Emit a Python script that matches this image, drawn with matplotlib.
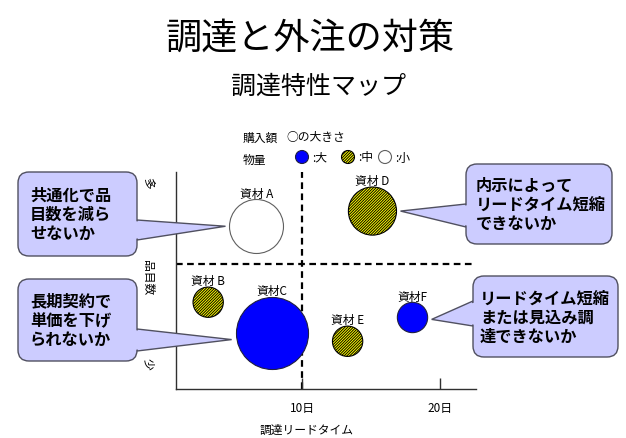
import numpy as np
import matplotlib
matplotlib.use("Agg")
import matplotlib.pyplot as plt
from matplotlib.patches import FancyBboxPatch, Polygon, Circle

plt.rcParams["font.family"] = ["Noto Sans CJK JP", "DejaVu Sans"]
plt.rcParams["hatch.linewidth"] = 0.7
plt.rcParams["hatch.color"] = "black"

# data
materials = ["資材 A", "資材 B", "資材C", "資材 D", "資材 E", "資材F"]
lead_time = [6.7, 3.2, 7.8, 15.1, 13.3, 18.0]      # 調達リードタイム (日)
item_count = [7.5, 4.0, 2.6, 8.2, 2.2, 3.3]        # 品目数 (少→多)
purchase = [7.3, 2.3, 13.0, 5.8, 2.3, 2.3]         # 購入額 (bubble area)
volume = ["小", "中", "大", "中", "中", "大"]        # 物量

x_ticks = [10, 20]
x_tick_labels = ["10日", "20日"]
x_split = 10
y_split = 5.76

styles = {
    "大": dict(facecolor="#0000FF", edgecolor="#202040", hatch=None),
    "中": dict(facecolor="#FFFF00", edgecolor="black", hatch="////////////"),
    "小": dict(facecolor="white", edgecolor="#606060", hatch=None),
}

W, H = 626, 439
fig = plt.figure(figsize=(W / 100, H / 100), dpi=100)
fig.patch.set_facecolor("white")

ax = fig.add_axes([176 / W, 1 - 390 / H, (476 - 176) / W, (390 - 173) / H])
ax.set_xlim(0.87, 22.6)
ax.set_ylim(0, 10)
for side in ["top", "right"]:
    ax.spines[side].set_visible(False)
for side in ["left", "bottom"]:
    ax.spines[side].set_linewidth(1)
    ax.spines[side].set_color("#303030")
ax.set_yticks([])
ax.set_xticks(x_ticks, labels=x_tick_labels)
ax.tick_params(axis="x", direction="in", length=8, width=1, pad=9, labelsize=8.5,
               color="#303030")

ax.axvline(x_split, color="black", lw=1.6, ls=(0, (3, 2)), zorder=1)
ax.axhline(y_split, color="black", lw=1.6, ls=(0, (3, 2)), zorder=1)

SIZE_K = 207
sizes = [p * SIZE_K for p in purchase]
for name, x, y, s, v in zip(materials, lead_time, item_count, sizes, volume):
    st = styles[v]
    ax.scatter([x], [y], s=s, facecolor=st["facecolor"], edgecolor=st["edgecolor"],
               hatch=st["hatch"], linewidths=0.8, zorder=3)
    r_pt = np.sqrt(s) / 2
    ax.annotate(name, (x, y), xytext=(0, r_pt + 4.5), textcoords="offset points",
                ha="center", va="center", fontsize=8.5, zorder=4)

# overlay in pixel coordinates for titles, legend and callouts
ov = fig.add_axes([0, 0, 1, 1], zorder=5)
ov.set_xlim(0, W)
ov.set_ylim(H, 0)
ov.axis("off")

ov.text(310, 39, "調達と外注の対策", ha="center", va="center", fontsize=26)
ov.text(318, 87, "調達特性マップ", ha="center", va="center", fontsize=18)

ov.text(307, 430, "調達リードタイム", ha="center", va="center", fontsize=8.5)
ov.text(148, 183, "多", ha="center", va="center", fontsize=8.5, rotation=-90)
ov.text(148, 278, "品目数", ha="center", va="center", fontsize=8.5, rotation=-90)
ov.text(148, 364, "少", ha="center", va="center", fontsize=8.5, rotation=-90)

# legend
ov.text(243, 138, "購入額", ha="left", va="center", fontsize=8.5)
ov.text(286, 138, "○の大きさ", ha="left", va="center", fontsize=8.5)
ov.text(243, 160, "物量", ha="left", va="center", fontsize=8.5)
for cx, v, lab in [(302, "大", ":大"), (348, "中", ":中"), (385, "小", ":小")]:
    st = styles[v]
    ov.add_patch(Circle((cx, 158), 6.5, facecolor=st["facecolor"], edgecolor=st["edgecolor"],
                        hatch=st["hatch"], lw=0.8))
    ov.text(cx + 10, 158, lab, ha="left", va="center", fontsize=8.5)

# callouts: text, box (x0, y0, x1, y1), text x, wedge base y range, target, tip dy
callouts = [
    ("共通化で品\n目数を減ら\nせないか", (18, 173, 137, 257), 30, (221, 241), 0, 0),
    ("内示によって\nリードタイム短縮\nできないか", (466, 165, 612, 245), 476, (205, 228), 3, 0),
    ("長期契約で\n単価を下げ\nられないか", (18, 280, 137, 362), 30, (330, 352), 2, 7),
    ("リードタイム短縮\nまたは見込み調\n達できないか", (473, 277, 618, 358), 480, (302, 327), 5, 2),
]
fill = "#CCCCFF"
edge = "#505060"
px_per_pt = 100 / 72
for txt, (x0, y0, x1, y1), tx, (bt, bb), idx, dy in callouts:
    disp = ax.transData.transform((lead_time[idx], item_count[idx]))
    cx, cy = ov.transData.inverted().transform(disp)
    r_px = np.sqrt(sizes[idx]) / 2 * px_per_pt
    if cx > x1:
        bx, inner, sgn = x1, x1 - 3, 1
        tip = (cx - r_px - 4, cy + dy)
    else:
        bx, inner, sgn = x0, x0 + 3, -1
        tip = (cx + r_px + 4, cy + dy)
    ov.add_patch(Polygon([(bx, bt), tip, (bx, bb)], closed=True,
                         facecolor=fill, edgecolor=edge, lw=1, zorder=1))
    ov.add_patch(FancyBboxPatch((x0, y0), x1 - x0, y1 - y0,
                                boxstyle="round,pad=0,rounding_size=11",
                                facecolor=fill, edgecolor=edge, lw=1, zorder=2))
    # hide the box edge where the pointer joins it
    out = bx + sgn * 4
    t = (out - bx) / (tip[0] - bx)
    yt_out = bt + (tip[1] - bt) * t
    yb_out = bb + (tip[1] - bb) * t
    ov.add_patch(Polygon([(inner, bt + 1.2), (out, yt_out + 1.2), (out, yb_out - 1.2),
                          (inner, bb - 1.2)], closed=True, facecolor=fill,
                         edgecolor="none", zorder=3))
    ov.text(tx, (y0 + y1) / 2, txt, ha="left", va="center",
            fontsize=11.7, fontweight="bold", linespacing=1.25, zorder=4)

fig.savefig("out.png", dpi=100)
